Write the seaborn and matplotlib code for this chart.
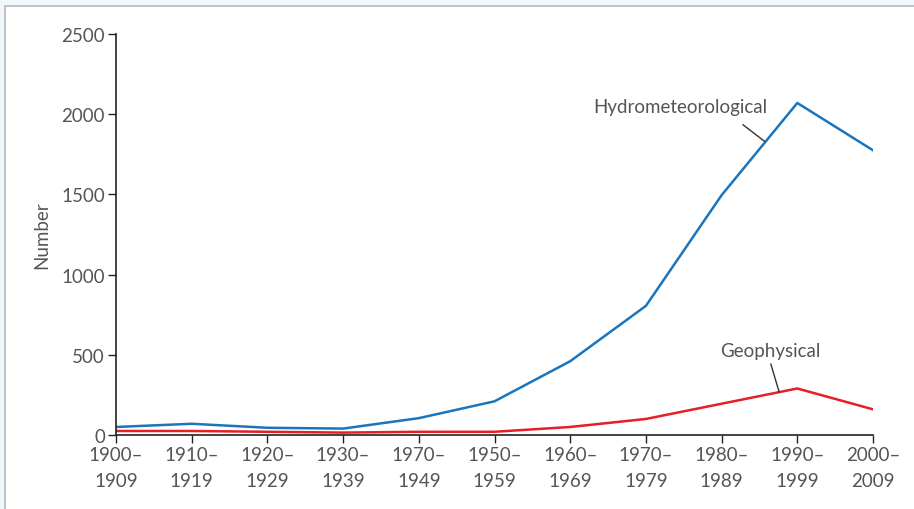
import matplotlib
matplotlib.use('Agg')
import matplotlib.pyplot as plt
import matplotlib.patches as patches
import pandas as pd
import seaborn as sns

sns.set_theme(style="ticks")
plt.rcParams['font.family'] = ['Lato', 'DejaVu Sans']

# decade labels (the 5th label reads "1970-1949" in the source figure)
decades = ['1900–\n1909', '1910–\n1919', '1920–\n1929', '1930–\n1939', '1970–\n1949',
           '1950–\n1959', '1960–\n1969', '1970–\n1979', '1980–\n1989', '1990–\n1999',
           '2000–\n2009']
hydro = [50, 70, 45, 40, 105, 210, 460, 805, 1495, 2070, 1775]
geo = [25, 25, 20, 15, 20, 20, 50, 100, 195, 290, 160]
y_ticks = [0, 500, 1000, 1500, 2000, 2500]

df = pd.DataFrame({'pos': list(range(len(decades))) * 2,
                   'value': hydro + geo,
                   'kind': ['Hydrometeorological'] * len(hydro) + ['Geophysical'] * len(geo)})

text_color = '#555555'
blue = '#1b75bc'
red = '#e61e28'

fig = plt.figure(figsize=(9.14, 5.10), dpi=100)
fig.patch.set_facecolor('#f0f8fc')
# white panel with grey edge
panel = patches.Rectangle((5 / 914, -0.1), 1.1, 1 - 7 / 510 + 0.1,
                          transform=fig.transFigure, facecolor='white',
                          edgecolor='#b8b8b8', linewidth=1.2, zorder=-10)
fig.add_artist(panel)

ax = fig.add_axes([116 / 914, 1 - 436 / 510, (873 - 116) / 914, (436 - 35) / 510])
ax.set_facecolor('none')

sns.lineplot(data=df, x='pos', y='value', hue='kind',
             palette={'Hydrometeorological': blue, 'Geophysical': red},
             linewidth=1.8, legend=False, ax=ax)

ax.set_xlim(0, len(decades) - 1)
ax.set_ylim(0, 2500)
ax.set_xticks(range(len(decades)))
ax.set_xticklabels(decades, fontsize=13.5, color=text_color, linespacing=1.65)
ax.set_yticks(y_ticks)
ax.set_yticklabels([str(v) for v in y_ticks], fontsize=13.5, color=text_color)
ax.tick_params(axis='both', length=6, width=1, color='#222222', pad=2)
ax.set_xlabel('')
ax.set_ylabel('Number', fontsize=13.5, color=text_color, labelpad=8)

sns.despine(ax=ax)
for side in ['left', 'bottom']:
    ax.spines[side].set_color('#222222')
    ax.spines[side].set_linewidth(1.2)
    ax.spines[side].set_clip_on(False)

# labels with leader lines
ax.text(8.61, 2045, 'Hydrometeorological', fontsize=13.5, color=text_color,
        ha='right', va='center')
ax.annotate('', xy=(8.57, 1830), xytext=(8.28, 1935),
            arrowprops=dict(arrowstyle='-', color='#333333', lw=1,
                            shrinkA=0, shrinkB=0))
ax.text(8.65, 525, 'Geophysical', fontsize=13.5, color=text_color,
        ha='center', va='center')
ax.annotate('', xy=(8.76, 268), xytext=(8.65, 443),
            arrowprops=dict(arrowstyle='-', color='#333333', lw=1,
                            shrinkA=0, shrinkB=0))

fig.savefig('out.png', dpi=100, facecolor=fig.get_facecolor())
